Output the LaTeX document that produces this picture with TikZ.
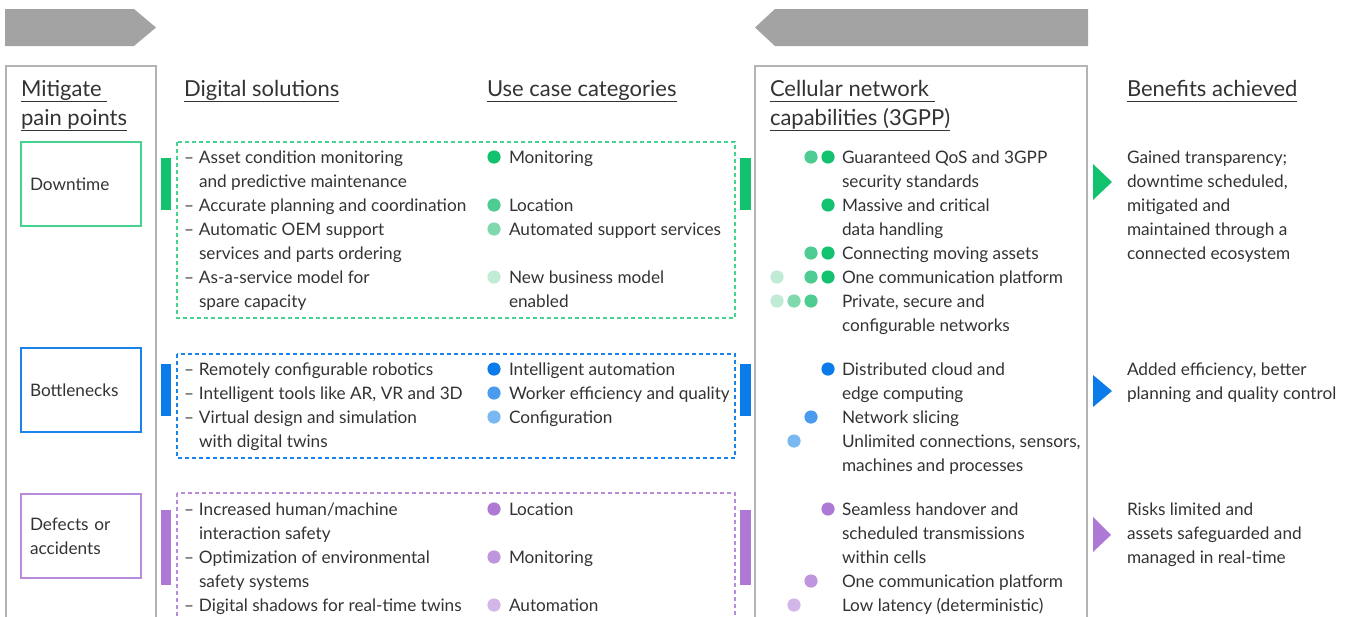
\documentclass[tikz,border=0pt]{standalone}
\usepackage{fontspec}
\setmainfont{Lato}
\definecolor{txt}{HTML}{333333}
\definecolor{arr}{HTML}{A3A3A3}
\definecolor{frame}{HTML}{B4B4B4}
\definecolor{gA}{HTML}{13C26F}
\definecolor{gB}{HTML}{4DCB90}
\definecolor{gC}{HTML}{7FD9AD}
\definecolor{gD}{HTML}{C0EBD5}
\definecolor{gL}{HTML}{45D390}
\definecolor{bA}{HTML}{0A7BE8}
\definecolor{bB}{HTML}{4A9AEE}
\definecolor{bC}{HTML}{7AB8F2}
\definecolor{bL}{HTML}{1A84EA}
\definecolor{pA}{HTML}{AD79D5}
\definecolor{pB}{HTML}{BE96DE}
\definecolor{pC}{HTML}{D2B6EA}
\definecolor{pL}{HTML}{B98BDC}
\newcommand\hd[1]{\underline{#1\vphantom{g}}}
\newcommand\dsh{\llap{--\hspace{5pt}}}

\begin{document}
\begin{tikzpicture}[x=1pt,y=-1pt,
  every node/.style={inner sep=0pt,outer sep=0pt,text=txt},
  body/.style={anchor=base west,align=left,font=\fontsize{17.2}{24}\selectfont},
  head/.style={anchor=base west,align=left,font=\fontsize{22}{29}\selectfont},
  painbox/.style={draw,line width=1.3pt,text width=102pt,inner xsep=9pt,minimum height=84pt,align=left,font=\fontsize{17.2}{24}\selectfont},
  solbox/.style={dash pattern=on 4pt off 3pt,line width=1.2pt},
  dot/.style={radius=6.6}]
  \useasboundingbox (0,0) rectangle (1351,616);
  \clip (0,0) rectangle (1351,616);

  \fill[arr] (5,9) -- (134,9) -- (156,27.5) -- (134,46) -- (5,46) -- cycle;
  \fill[arr] (1088,9) -- (775,9) -- (755,27.5) -- (775,46) -- (1088,46) -- cycle;

  \draw[frame,line width=1.2pt] (6,66) rectangle (156,660);
  \draw[frame,line width=1.2pt] (755,66) rectangle (1087,660);

  \node[head] (mitigate) at (21,125) {\hd{Mitigate\ }\\\hd{pain points}};
  \node[head] (digital) at (184,96) {\hd{Digital solutions}};
  \node[head] (usecase) at (487,96) {\hd{Use case categories}};
  \node[head] (cellular) at (770,125) {\hd{Cellular network\ }\\\hd{capabilities (3GPP)}};
  \node[head] (benefits) at (1127,96) {\hd{Benefits achieved}};

  % downtime
  \node[painbox,draw=gL] (downtime) at (81,184) {Downtime};
  \draw[gL,solbox] (177,142) rectangle (735,318);
  \fill[gA] (161,158) rectangle (171,210);
  \fill[gA] (740,158) rectangle (751,210);
  \fill[gA] (1093,164) -- (1112,182) -- (1093,200) -- cycle;
  \node[body] (sol1) at (199,307) {\dsh Asset condition monitoring\\and predictive maintenance\\
    \dsh Accurate planning and coordination\\\dsh Automatic OEM support\\
    services and parts ordering\\\dsh As-a-service model for\\spare capacity};
  \node[body] (use1) at (509,307) {Monitoring\\\mbox{}\\Location\\Automated support services\\
    \mbox{}\\New business model\\enabled};
  \node[body] (cap1) at (842,331) {Guaranteed QoS and 3GPP\\security standards\\
    Massive and critical\\data handling\\Connecting moving assets\\
    One communication platform\\Private, secure and\\configurable networks};
  \node[body] (ben1) at (1127,259) {Gained transparency;\\downtime scheduled,\\
    mitigated and\\maintained through a\\connected ecosystem};
  \foreach \x/\y/\c in {494/157/gA,494/205/gB,494/229/gC,494/277/gD,
      811/157/gB,828/157/gA,828/205/gA,811/253/gB,828/253/gA,
      777/277/gD,811/277/gB,828/277/gA,777/301/gD,794/301/gC,811/301/gB}
    \fill[\c,dot] (\x,\y) circle;

  % bottlenecks
  \node[painbox,draw=bL] (bottlenecks) at (81,390) {Bottlenecks};
  \draw[bL,solbox] (177,354) rectangle (735,458);
  \fill[bA] (161,364) rectangle (171,416);
  \fill[bA] (740,364) rectangle (751,416);
  \fill[bA] (1093,375) -- (1112,391) -- (1093,407) -- cycle;
  \node[body] (sol2) at (199,447) {\dsh Remotely configurable robotics\\
    \dsh Intelligent tools like AR, VR and 3D\\\dsh Virtual design and simulation\\
    with digital twins};
  \node[body] (use2) at (509,423) {Intelligent automation\\Worker efficiency and quality\\Configuration};
  \node[body] (cap2) at (842,471) {Distributed cloud and\\edge computing\\Network slicing\\
    Unlimited connections, sensors,\\machines and processes};
  \node[body] (ben2) at (1127,399) {Added efficiency, better\\planning and quality control};
  \foreach \x/\y/\c in {494/369/bA,494/393/bB,494/417/bC,828/369/bA,811/417/bB,794/441/bC}
    \fill[\c,dot] (\x,\y) circle;

  % defects
  \node[painbox,draw=pL] (defects) at (81,536) {Defects or\\accidents};
  \draw[pL,solbox] (177,493) rectangle (735,660);
  \fill[pA] (161,510) rectangle (171,585);
  \fill[pA] (740,510) rectangle (751,585);
  \fill[pA] (1093,517) -- (1111,535) -- (1093,552) -- cycle;
  \node[body] (sol3) at (199,611) {\dsh Increased human/machine\\interaction safety\\
    \dsh Optimization of environmental\\safety systems\\\dsh Digital shadows for real-time twins};
  \node[body] (use3) at (509,611) {Location\\\mbox{}\\Monitoring\\\mbox{}\\Automation};
  \node[body] (cap3) at (842,611) {Seamless handover and\\scheduled transmissions\\within cells\\
    One communication platform\\Low latency (deterministic)};
  \node[body] (ben3) at (1127,563) {Risks limited and\\assets safeguarded and\\managed in real-time};
  \foreach \x/\y/\c in {494/509/pA,494/557/pB,494/605/pC,828/509/pA,811/581/pB,794/605/pC}
    \fill[\c,dot] (\x,\y) circle;
\end{tikzpicture}
\end{document}
